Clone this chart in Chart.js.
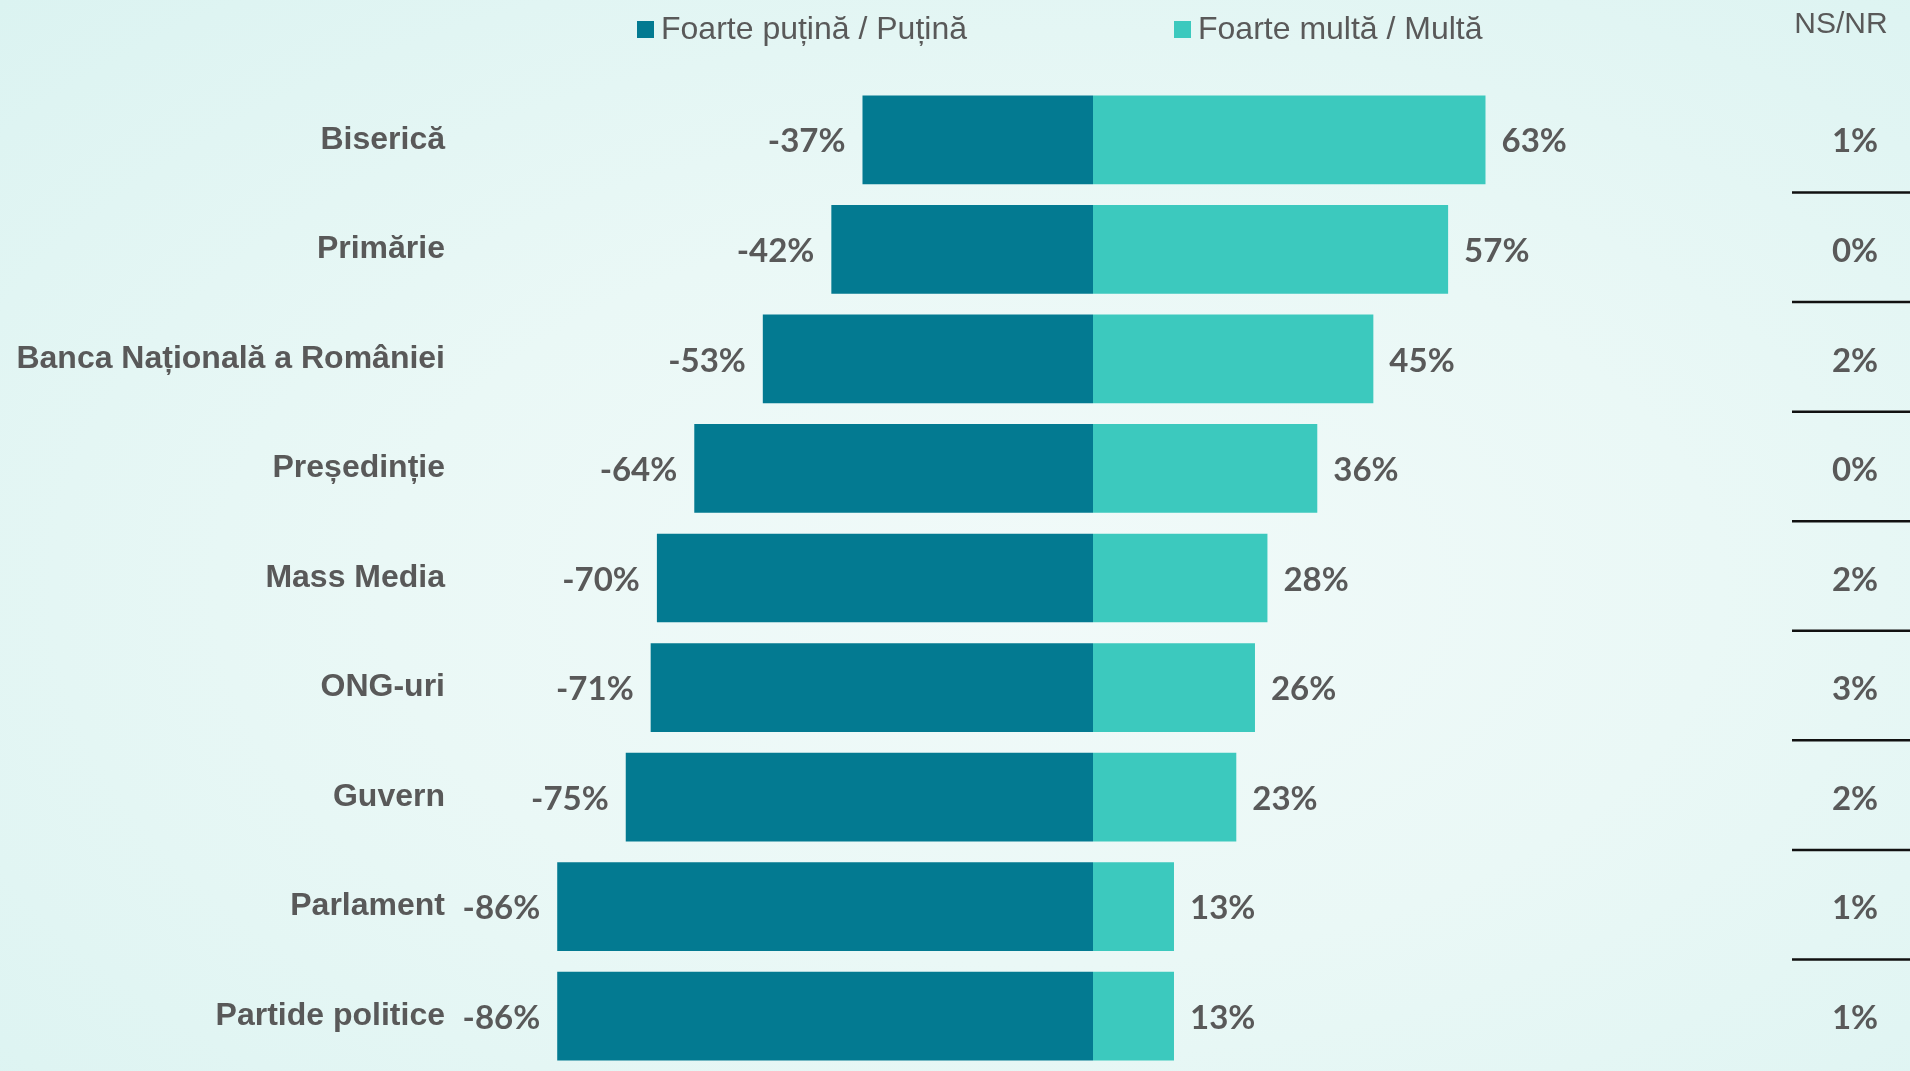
<!DOCTYPE html>
<html>
<head>
<meta charset="utf-8">
<script src="https://cdn.jsdelivr.net/npm/chart.js@4.4.0/dist/chart.umd.min.js"></script>
<style>
  html, body { margin: 0; padding: 0; }
  body {
    width: 1910px; height: 1071px; overflow: hidden;
    background: radial-gradient(ellipse at 55% 55%, #f1faf9 0%, #eaf8f6 45%, #dbf3f1 100%);
  }
  canvas { display: block; }
</style>
</head>
<body>
<canvas id="trustChart" width="1910" height="1071"></canvas>
<script>
// date
const categories = ['Biserică', 'Primărie', 'Banca Națională a României', 'Președinție', 'Mass Media', 'ONG-uri', 'Guvern', 'Parlament', 'Partide politice'];
const lowTrust = [-37, -42, -53, -64, -70, -71, -75, -86, -86];
const highTrust = [63, 57, 45, 36, 28, 26, 23, 13, 13];
const nsnr = [1, 0, 2, 0, 2, 3, 2, 1, 1];
const seriesNames = ['Foarte puțină / Puțină', 'Foarte multă / Multă'];
const colors = ['#037A91', '#3CC9BE'];

const textGray = '#595959';

// etichete de valoare langa bare
const valueLabels = {
  id: 'valueLabels',
  afterDatasetsDraw(chart) {
    const ctx = chart.ctx;
    ctx.save();
    ctx.font = 'bold 33px Lato';
    ctx.fillStyle = textGray;
    ctx.textBaseline = 'middle';
    chart.data.datasets.forEach((ds, di) => {
      chart.getDatasetMeta(di).data.forEach((bar, i) => {
        const v = ds.data[i];
        if (v < 0) {
          ctx.textAlign = 'right';
          ctx.fillText(v + '%', bar.x - 17, bar.y + 2);
        } else {
          ctx.textAlign = 'left';
          ctx.fillText(v + '%', bar.x + 16, bar.y + 2);
        }
      });
    });
    ctx.restore();
  }
};

// coloana NS/NR + legenda
const sideColumn = {
  id: 'sideColumn',
  afterDraw(chart) {
    const ctx = chart.ctx;
    const y = chart.scales.y;
    ctx.save();

    // legenda
    ctx.font = '32px "Liberation Sans"';
    ctx.textBaseline = 'middle';
    ctx.textAlign = 'left';
    const legendX = [637, 1174];
    seriesNames.forEach((name, i) => {
      ctx.fillStyle = colors[i];
      ctx.fillRect(legendX[i], 21, 17, 17);
      ctx.fillStyle = textGray;
      ctx.fillText(name, legendX[i] + 24, 30);
    });

    // titlu coloana
    ctx.font = '30px "Liberation Sans"';
    ctx.textAlign = 'center';
    ctx.fillText('NS/NR', 1841, 25);

    // valori NS/NR
    ctx.font = 'bold 33px Lato';
    nsnr.forEach((v, i) => {
      ctx.fillText(v + '%', 1855, y.getPixelForValue(i) + 2);
    });

    // linii separatoare
    ctx.strokeStyle = '#111';
    ctx.lineWidth = 2.5;
    for (let i = 0; i < nsnr.length - 1; i++) {
      const ly = (y.getPixelForValue(i) + y.getPixelForValue(i + 1)) / 2 - 2;
      ctx.beginPath();
      ctx.moveTo(1792, ly);
      ctx.lineTo(1910, ly);
      ctx.stroke();
    }
    ctx.restore();
  }
};

new Chart(document.getElementById('trustChart'), {
  type: 'bar',
  data: {
    labels: categories,
    datasets: [
      { label: seriesNames[0], data: lowTrust, backgroundColor: colors[0], barPercentage: 0.9, categoryPercentage: 0.9 },
      { label: seriesNames[1], data: highTrust, backgroundColor: colors[1], barPercentage: 0.9, categoryPercentage: 0.9 }
    ]
  },
  options: {
    indexAxis: 'y',
    responsive: false,
    devicePixelRatio: 1,
    animation: false,
    layout: { padding: { top: 85, right: 194, bottom: 0, left: 0 } },
    scales: {
      x: { stacked: true, min: -100, max: 100, display: false },
      y: {
        stacked: true,
        grid: { display: false, drawTicks: false },
        border: { display: false },
        ticks: {
          color: textGray,
          padding: 25,
          font: { family: 'Liberation Sans', size: 32, weight: 'bold' }
        },
        afterFit(scale) {
          scale.width = 470;
          scale.paddingTop = 0;
          scale.paddingBottom = 0;
        }
      }
    },
    plugins: {
      legend: { display: false },
      tooltip: { enabled: false }
    }
  },
  plugins: [valueLabels, sideColumn]
});
</script>
</body>
</html>
